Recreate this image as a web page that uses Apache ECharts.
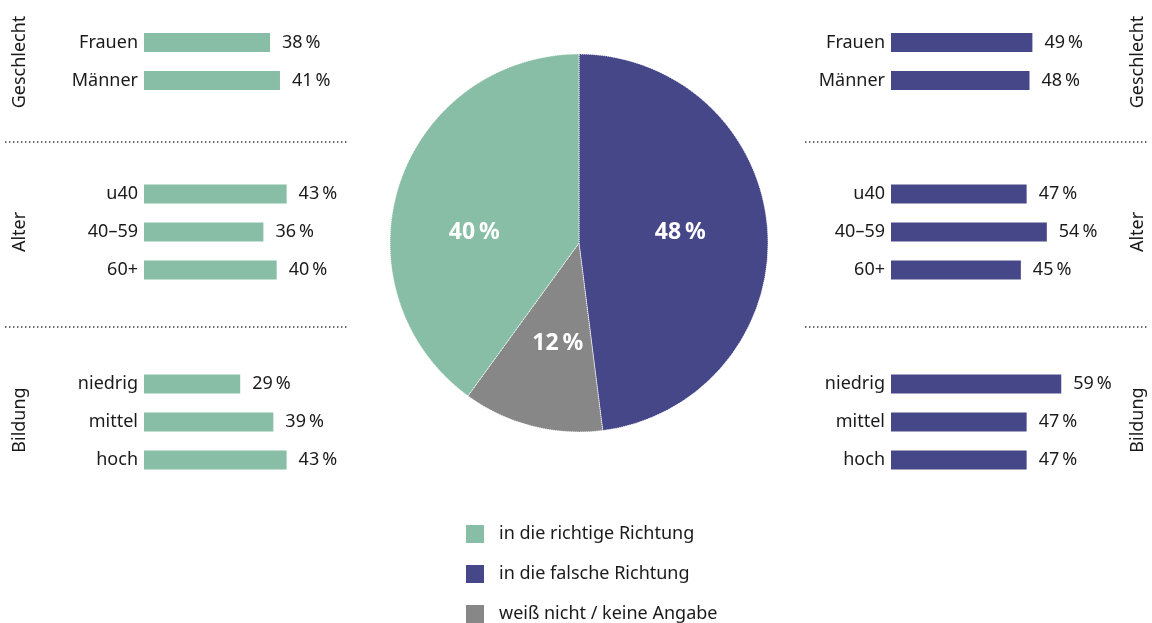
<!DOCTYPE html>
<html>
<head>
<meta charset="utf-8">
<script src="https://cdn.jsdelivr.net/npm/echarts@6/dist/echarts.min.js"></script>
<style>
html,body{margin:0;padding:0;background:#fff}
#main{width:1152px;height:623px}
</style>
</head>
<body>
<div id="main"></div>
<script>
// Kategorien
var geschlechtCats = ["Frauen", "Männer"];
var alterCats = ["u40", "40–59", "60+"];
var bildungCats = ["niedrig", "mittel", "hoch"];

// in die richtige Richtung (links)
var richtigGeschlecht = [38, 41];
var richtigAlter = [43, 36, 40];
var richtigBildung = [29, 39, 43];

// in die falsche Richtung (rechts)
var falschGeschlecht = [49, 48];
var falschAlter = [47, 54, 45];
var falschBildung = [59, 47, 47];

// Gesamt
var pieNames = ["in die falsche Richtung", "weiß nicht / keine Angabe", "in die richtige Richtung"];
var pieValues = [48, 12, 40];
var legendOrder = ["in die richtige Richtung", "in die falsche Richtung", "weiß nicht / keine Angabe"];

var GREEN = "#88bea6", PURPLE = "#464788", GREY = "#878787";
var FONT = "Noto Sans";
var TXT = "#1a1a1a";

var chart = echarts.init(document.getElementById("main"));

// left side: 3.31 px per %, right side: 2.88 px per %
var groups = [
  {cats: geschlechtCats, data: richtigGeschlecht, color: GREEN, left: 144, width: 199, max: 60, top: 23.5, height: 76},
  {cats: alterCats, data: richtigAlter, color: GREEN, left: 144, width: 199, max: 60, top: 175, height: 114},
  {cats: bildungCats, data: richtigBildung, color: GREEN, left: 144, width: 199, max: 60, top: 365, height: 114},
  {cats: geschlechtCats, data: falschGeschlecht, color: PURPLE, left: 891, width: 202, max: 70, top: 23.5, height: 76},
  {cats: alterCats, data: falschAlter, color: PURPLE, left: 891, width: 202, max: 70, top: 175, height: 114},
  {cats: bildungCats, data: falschBildung, color: PURPLE, left: 891, width: 202, max: 70, top: 365, height: 114}
];

var grids = [], xAxes = [], yAxes = [], series = [];
groups.forEach(function(g, i) {
  grids.push({left: g.left, width: g.width, top: g.top, height: g.height, containLabel: false});
  xAxes.push({type: "value", gridIndex: i, min: 0, max: g.max, show: false});
  yAxes.push({
    type: "category", gridIndex: i, inverse: true, data: g.cats,
    axisLine: {show: false}, axisTick: {show: false}, splitLine: {show: false},
    axisLabel: {margin: 6, fontFamily: FONT, fontSize: 18, color: TXT}
  });
  series.push({
    type: "bar", xAxisIndex: i, yAxisIndex: i, data: g.data, barWidth: 19,
    itemStyle: {color: g.color}, silent: true,
    label: {
      show: true, position: "right", distance: 12,
      fontFamily: FONT, fontSize: 18, color: TXT,
      formatter: function(p) { return p.value + "\u2009%"; }
    }
  });
});

series.push({
  type: "pie", center: [579, 243], radius: 189, startAngle: 90, clockwise: true,
  silent: true,
  data: pieNames.map(function(n, i) {
    var d = {name: n, value: pieValues[i], itemStyle: {color: [PURPLE, GREY, GREEN][i]}};
    if (i === 2) d.label = {offset: [-12, 20]};
    if (i === 0) d.label = {offset: [4, -4]};
    if (i === 1) d.label = {offset: [3, 6]};
    return d;
  }),
  itemStyle: {borderColor: "#fff", borderWidth: 1, borderType: "dotted"},
  label: {
    show: true, position: "inside", color: "#fff", fontFamily: FONT,
    fontSize: 23, fontWeight: "bold",
    formatter: function(p) { return p.value + "\u2009%"; }
  },
  labelLine: {show: false}
});

function vtext(x, y, t) {
  return {type: "text", x: x, y: y, rotation: Math.PI / 2, silent: true,
    style: {text: t, align: "center", verticalAlign: "middle", font: "18px '" + FONT + "'", fill: TXT}};
}
function dots(x1, x2, y) {
  return {type: "line", silent: true, shape: {x1: x1, y1: y, x2: x2, y2: y},
    style: {stroke: "#333", lineWidth: 1.6, lineDash: [1.4, 2.6]}};
}

// one legend per row so the entries stay stacked
var legends = legendOrder.map(function(n, i) {
  return {
    orient: "vertical", left: 464, top: 523 + i * 40, icon: "rect",
    itemWidth: 20, itemHeight: 20, padding: 0,
    data: [n], selectedMode: false,
    textStyle: {fontFamily: FONT, fontSize: 18, lineHeight: 20, color: TXT, padding: [0, 0, 0, 9]}
  };
});

chart.setOption({
  animation: false,
  grid: grids,
  xAxis: xAxes,
  yAxis: yAxes,
  series: series,
  legend: legends,
  graphic: [
    vtext(20, 62, "Geschlecht"), vtext(20, 232, "Alter"), vtext(20, 420, "Bildung"),
    vtext(1138, 62, "Geschlecht"), vtext(1138, 232, "Alter"), vtext(1138, 420, "Bildung"),
    dots(5, 348, 142), dots(5, 348, 327), dots(805, 1148, 142), dots(805, 1148, 327)
  ]
});
</script>
</body>
</html>
